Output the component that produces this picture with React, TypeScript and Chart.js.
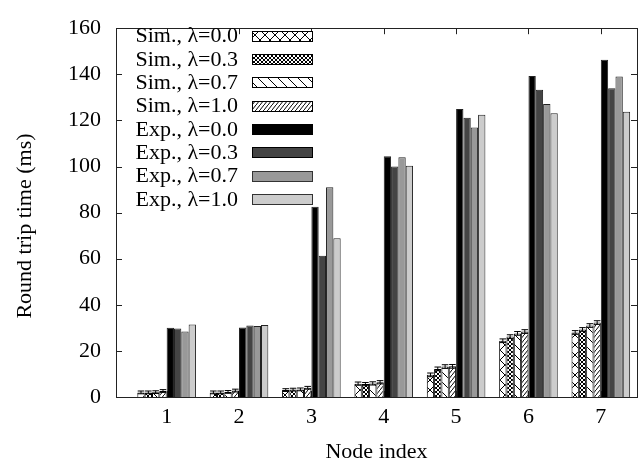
import React, { useEffect, useRef } from 'react';
import { Chart, registerables } from 'chart.js';

Chart.register(...registerables);

// ---------- data ----------
const categories = ['1', '2', '3', '4', '5', '6', '7'];
const nodeIndex = [1, 2, 3, 4, 5, 6, 7];
const seriesLabels = [
  'Sim., λ=0.0',
  'Sim., λ=0.3',
  'Sim., λ=0.7',
  'Sim., λ=1.0',
  'Exp., λ=0.0',
  'Exp., λ=0.3',
  'Exp., λ=0.7',
  'Exp., λ=1.0',
];
const sim00 = [2.0, 2.0, 3.0, 5.8, 9.6, 24.4, 28.0];
const sim03 = [2.0, 2.0, 3.2, 5.6, 12.2, 26.2, 29.3];
const sim07 = [2.1, 2.2, 3.3, 5.9, 13.2, 27.6, 31.0];
const sim10 = [2.6, 2.8, 4.0, 6.4, 13.3, 28.4, 32.3];
const exp00 = [30.0, 30.2, 82.5, 104.4, 125.0, 139.3, 146.3];
const exp03 = [29.7, 31.0, 61.3, 100.0, 121.1, 133.3, 134.0];
const exp07 = [28.4, 30.8, 91.0, 104.0, 116.9, 127.1, 139.0];
const exp10 = [31.4, 31.2, 68.9, 100.3, 122.4, 123.1, 123.7];
const simErr00 = [0.6, 0.6, 0.6, 0.7, 0.8, 0.8, 0.8];
const simErr03 = [0.6, 0.6, 0.6, 0.7, 0.8, 0.8, 0.8];
const simErr07 = [0.6, 0.6, 0.6, 0.7, 0.8, 0.8, 0.8];
const simErr10 = [0.6, 0.6, 0.6, 0.7, 0.8, 0.8, 0.8];
const yTicks = [0, 20, 40, 60, 80, 100, 120, 140, 160];

const FONT = '"Liberation Serif", "Times New Roman", serif';
const FS = 22;

function makePattern(kind: number): CanvasPattern | string {
  const c = document.createElement('canvas');
  let w = 10;
  let h = 10;
  if (kind === 0) { w = 10; h = 10; }
  if (kind === 1) { w = 4; h = 4; }
  if (kind === 2) { w = 10; h = 10; }
  if (kind === 3) { w = 4; h = 5; }
  c.width = w;
  c.height = h;
  const g = c.getContext('2d')!;
  g.fillStyle = '#ffffff';
  g.fillRect(0, 0, w, h);
  g.strokeStyle = '#000000';
  g.lineWidth = 1;
  g.beginPath();
  const back = () => {
    g.moveTo(-1, -1 * h / w); g.lineTo(w + 1, h + h / w);
  };
  const fwd = () => {
    g.moveTo(-1, h + h / w); g.lineTo(w + 1, -h / w);
  };
  if (kind === 0 || kind === 1) { back(); fwd(); }
  if (kind === 2) back();
  if (kind === 3) fwd();
  g.stroke();
  const p = g.createPattern(c, 'repeat');
  return p || '#fff';
}

export default function App() {
  const ref = useRef<HTMLCanvasElement | null>(null);

  useEffect(() => {
    document.body.style.margin = '0';
    const canvas = ref.current!;
    const pats = [0, 1, 2, 3].map((k) => makePattern(k));
    const simSeries = [sim00, sim03, sim07, sim10];
    const simErrs = [simErr00, simErr03, simErr07, simErr10];
    const expSeries = [exp00, exp03, exp07, exp10];
    const expColors = ['#000000', '#444444', '#999999', '#cccccc'];
    const fills: (CanvasPattern | string)[] = [...pats, ...expColors];

    const toPts = (arr: number[]) => arr.map((v, i) => ({ x: nodeIndex[i], y: v }));

    const datasets: any[] = [
      ...simSeries.map((s, i) => ({
        label: seriesLabels[i],
        data: toPts(s),
        backgroundColor: pats[i],
        borderColor: '#000000',
        borderWidth: 1,
      })),
      ...expSeries.map((s, i) => ({
        label: seriesLabels[i + 4],
        data: toPts(s),
        backgroundColor: expColors[i],
        borderColor: '#222222',
        borderWidth: 1,
      })),
    ];

    const decor = {
      id: 'decor',
      beforeDatasetsDraw(chart: any) {
        const { ctx, chartArea: a, scales } = chart;
        ctx.save();
        ctx.strokeStyle = '#222';
        ctx.lineWidth = 1;
        ctx.beginPath();
        yTicks.forEach((v) => {
          const y = Math.round(scales.y.getPixelForValue(v)) + 0.5;
          ctx.moveTo(a.left, y); ctx.lineTo(a.left + 6, y);
          ctx.moveTo(a.right, y); ctx.lineTo(a.right - 6, y);
        });
        nodeIndex.forEach((v) => {
          const x = Math.round(scales.x.getPixelForValue(v)) + 0.5;
          ctx.moveTo(x, a.top); ctx.lineTo(x, a.top + 6);
          ctx.moveTo(x, a.bottom); ctx.lineTo(x, a.bottom - 6);
        });
        ctx.stroke();
        ctx.restore();
      },
      afterDatasetsDraw(chart: any) {
        const { ctx, chartArea: a, scales } = chart;
        ctx.save();
        // error bars on simulation bars
        ctx.strokeStyle = '#000';
        ctx.lineWidth = 1;
        simSeries.forEach((s, di) => {
          const meta = chart.getDatasetMeta(di);
          meta.data.forEach((el: any, j: number) => {
            const x = el.x;
            const hw = el.width * 0.45;
            const y1 = scales.y.getPixelForValue(s[j] - simErrs[di][j]);
            const y2 = scales.y.getPixelForValue(s[j] + simErrs[di][j]);
            ctx.beginPath();
            ctx.moveTo(x, y1); ctx.lineTo(x, y2);
            ctx.moveTo(x - hw, y1); ctx.lineTo(x + hw, y1);
            ctx.moveTo(x - hw, y2); ctx.lineTo(x + hw, y2);
            ctx.stroke();
          });
        });
        // frame
        ctx.strokeStyle = '#222';
        ctx.lineWidth = 1;
        ctx.strokeRect(Math.round(a.left) + 0.5, Math.round(a.top) + 0.5,
          Math.round(a.right - a.left), Math.round(a.bottom - a.top));
        // legend
        ctx.font = `${FS}px ${FONT}`;
        ctx.textAlign = 'right';
        ctx.textBaseline = 'middle';
        seriesLabels.forEach((lab, i) => {
          const cy = 35.7 + i * 23.33;
          ctx.fillStyle = '#000';
          ctx.fillText(lab, 238, cy + 1);
          ctx.fillStyle = fills[i] as any;
          ctx.fillRect(252, Math.round(cy - 5), 60, 10);
          ctx.strokeStyle = i >= 6 ? '#333' : '#000';
          ctx.strokeRect(252.5, Math.round(cy - 5) + 0.5, 60, 10);
        });
        // axis titles
        ctx.fillStyle = '#000';
        ctx.textAlign = 'center';
        ctx.textBaseline = 'middle';
        ctx.fillText('Node index', (a.left + a.right) / 2, 452);
        ctx.translate(25, 226);
        ctx.rotate(-Math.PI / 2);
        ctx.fillText('Round trip time (ms)', 0, 0);
        ctx.restore();
      },
    };

    const chart = new Chart(canvas, {
      type: 'bar',
      data: { datasets },
      options: {
        animation: false,
        responsive: false,
        devicePixelRatio: 1,
        layout: { padding: { top: 20, right: 4, left: 0, bottom: 0 } },
        datasets: { bar: { categoryPercentage: 0.81, barPercentage: 1.0 } } as any,
        plugins: { legend: { display: false }, tooltip: { enabled: false } },
        scales: {
          x: {
            type: 'linear',
            min: 0.3,
            max: 7.5,
            offset: false,
            grid: { display: false, drawTicks: false },
            border: { display: false },
            afterBuildTicks: (s: any) => {
              s.ticks = nodeIndex.map((v) => ({ value: v }));
            },
            afterFit: (s: any) => { s.height = 68; },
            ticks: {
              autoSkip: false,
              maxRotation: 0,
              padding: 7,
              color: '#000',
              font: { family: FONT, size: FS },
              callback: (v: any) => {
                const k = nodeIndex.indexOf(Number(v));
                return k >= 0 ? categories[k] : '';
              },
            },
          },
          y: {
            min: 0,
            max: 160,
            grid: { display: false, drawTicks: false },
            border: { display: false },
            afterBuildTicks: (s: any) => {
              s.ticks = yTicks.map((v) => ({ value: v }));
            },
            afterFit: (s: any) => { s.width = 116; },
            ticks: {
              padding: 15,
              color: '#000',
              font: { family: FONT, size: FS },
            },
          },
        },
      } as any,
      plugins: [decor],
    });
    return () => chart.destroy();
  }, []);

  return (
    <div style={{ width: 641, height: 465 }}>
      <canvas ref={ref} width={641} height={465} style={{ display: 'block' }} />
    </div>
  );
}
